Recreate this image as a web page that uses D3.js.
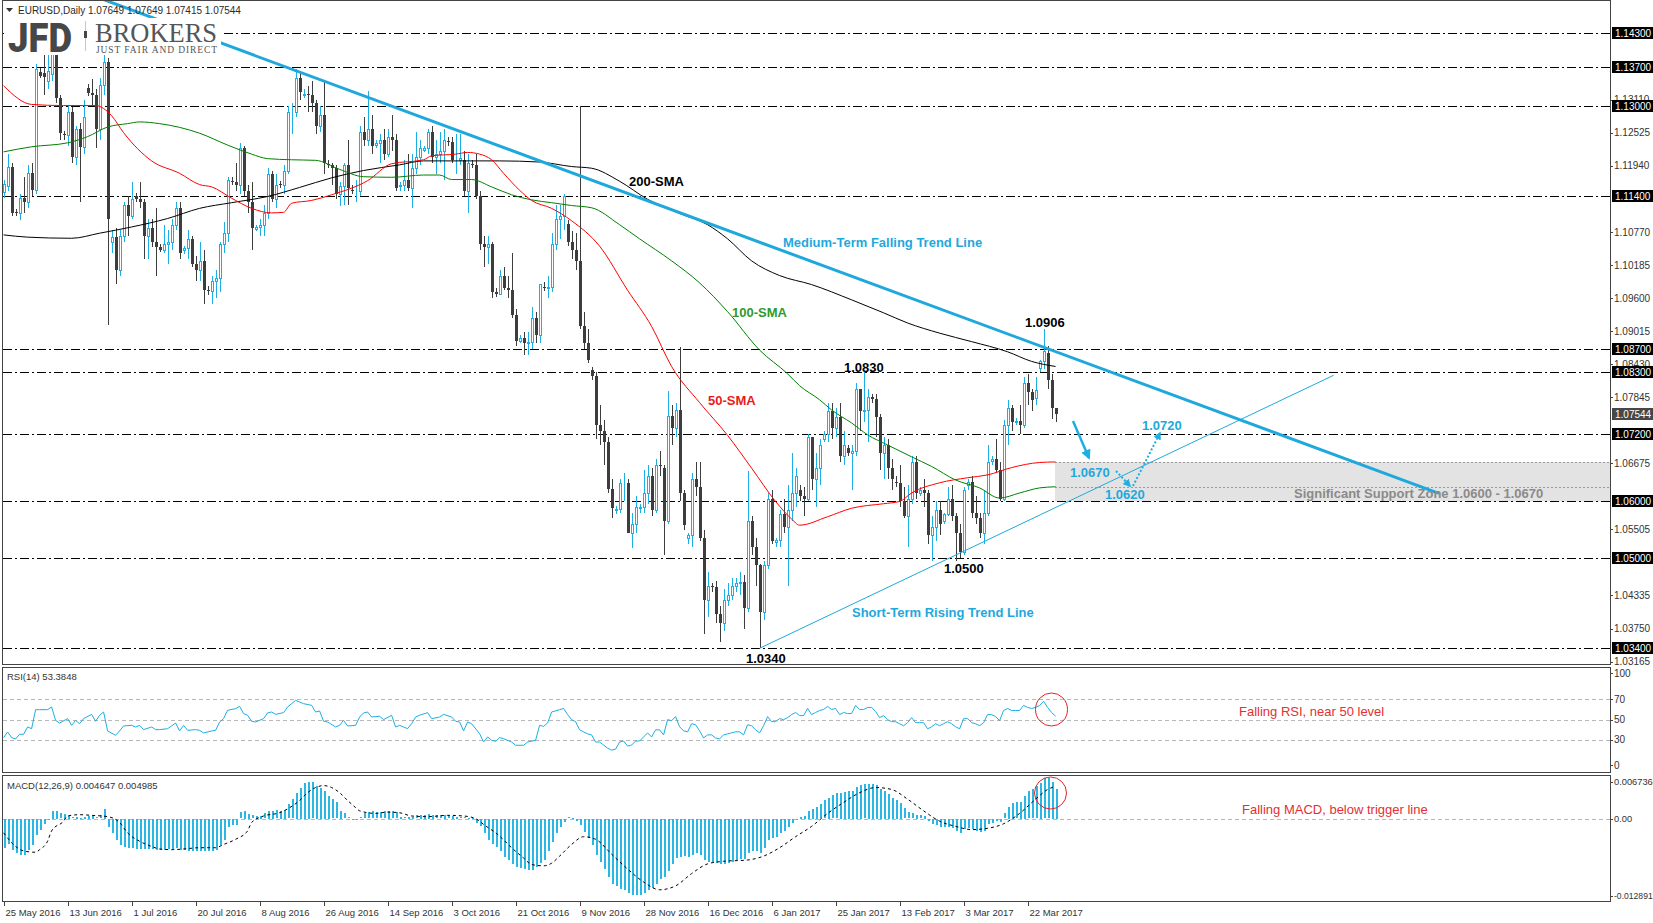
<!DOCTYPE html>
<html><head><meta charset="utf-8">
<script src="https://cdn.jsdelivr.net/npm/d3@7"></script>
<style>
html,body{margin:0;padding:0;background:#fff;overflow:hidden;}
svg{display:block;}
</style></head><body>
<svg id="c" width="1653" height="923" style="font-family:'Liberation Sans',Arial,sans-serif"></svg>
<script>
// ---------------- DATA ----------------
const symbolTitle = "EURUSD,Daily";
const headerValues = "1.07649 1.07649 1.07415 1.07544";
const currentPrice = 1.07544;
const dateLabels = ["25 May 2016","13 Jun 2016","1 Jul 2016","20 Jul 2016","8 Aug 2016","26 Aug 2016","14 Sep 2016","3 Oct 2016","21 Oct 2016","9 Nov 2016","28 Nov 2016","16 Dec 2016","6 Jan 2017","25 Jan 2017","13 Feb 2017","3 Mar 2017","22 Mar 2017"];
const barsPerLabel = 16;
const levelLines = [1.143,1.137,1.130,1.114,1.087,1.083,1.072,1.060,1.050,1.034];
const priceTicks = [1.13110,1.12525,1.11940,1.10770,1.10185,1.09600,1.09015,1.08430,1.07845,1.06675,1.05505,1.04335,1.03750,1.03165];
const supportZone = [1.0600, 1.0670];
const zoneMid = 1.0625;
// [open, high, low, close]
const ohlc = [
[1.1148,1.1170,1.1138,1.1162],//0 25May
[1.1158,1.1216,1.1150,1.1192],//1
[1.1192,1.1200,1.1105,1.1110],//2
[1.1112,1.1118,1.1106,1.1110],//3
[1.1110,1.1145,1.1098,1.1138],//4
[1.1138,1.1175,1.1110,1.1130],//5
[1.1130,1.1195,1.1120,1.1182],//6
[1.1182,1.1200,1.1140,1.1152],//7
[1.1152,1.1375,1.1145,1.1365],//8
[1.1360,1.1368,1.1350,1.1354],//9
[1.1358,1.1394,1.1320,1.1352],//10
[1.1345,1.1395,1.1330,1.1362],//11
[1.1356,1.1416,1.1345,1.1394],//12
[1.1394,1.1400,1.1305,1.1315],//13
[1.1315,1.1320,1.1240,1.1252],//14
[1.1250,1.1256,1.1240,1.1248],//15
[1.1248,1.1300,1.1230,1.1290],//16 13Jun
[1.1290,1.1298,1.1200,1.1210],//17
[1.1210,1.1265,1.1195,1.1260],//18
[1.1260,1.1270,1.1130,1.1228],//19
[1.1228,1.1310,1.1215,1.1280],//20
[1.1332,1.1340,1.1318,1.1324],//21
[1.1324,1.1348,1.1300,1.1320],//22
[1.1320,1.1330,1.1225,1.1260],//23
[1.1260,1.1350,1.1240,1.1338],//24
[1.1338,1.1428,1.1320,1.1378],//25
[1.1378,1.1385,1.0912,1.1100],//26
[1.1060,1.1080,1.1040,1.1068],//27
[1.1068,1.1085,1.0985,1.1010],//28
[1.1010,1.1080,1.1000,1.1070],//29
[1.1070,1.1130,1.1060,1.1125],//30
[1.1125,1.1140,1.1070,1.1105],//31
[1.1105,1.1165,1.1100,1.1135],//32 1Jul
[1.1140,1.1146,1.1130,1.1136],//33
[1.1136,1.1165,1.1120,1.1130],//34
[1.1130,1.1135,1.1030,1.1070],//35
[1.1070,1.1100,1.1030,1.1085],//36
[1.1085,1.1100,1.1050,1.1060],//37
[1.1060,1.1120,1.1000,1.1050],//38
[1.1050,1.1056,1.1042,1.1046],//39
[1.1046,1.1090,1.1040,1.1055],//40
[1.1055,1.1080,1.1020,1.1060],//41
[1.1060,1.1100,1.1045,1.1090],//42
[1.1090,1.1130,1.1080,1.1120],//43
[1.1120,1.1130,1.1030,1.1040],//44
[1.1045,1.1052,1.1038,1.1048],//45
[1.1048,1.1080,1.1030,1.1065],//46
[1.1065,1.1070,1.1015,1.1020],//47
[1.1020,1.1035,1.0990,1.1010],//48 20Jul
[1.1010,1.1060,1.0990,1.1025],//49
[1.1025,1.1045,1.0950,1.0975],//50
[1.0975,1.0982,1.0965,1.0972],//51
[1.0972,1.1000,1.0950,1.0990],//52
[1.0990,1.1010,1.0960,1.0995],//53
[1.0995,1.1060,1.0970,1.1055],//54
[1.1055,1.1095,1.1040,1.1075],//55
[1.1075,1.1175,1.1060,1.1170],//56
[1.1168,1.1175,1.1160,1.1165],//57
[1.1165,1.1200,1.1150,1.1160],//58
[1.1160,1.1235,1.1145,1.1225],//59
[1.1225,1.1230,1.1140,1.1150],//60
[1.1150,1.1160,1.1110,1.1130],//61
[1.1130,1.1165,1.1045,1.1085],//62
[1.1082,1.1090,1.1078,1.1086],//63
[1.1086,1.1100,1.1070,1.1090],//64 8Aug
[1.1090,1.1125,1.1070,1.1110],//65
[1.1110,1.1190,1.1100,1.1180],//66
[1.1180,1.1185,1.1130,1.1135],//67
[1.1135,1.1180,1.1120,1.1160],//68
[1.1162,1.1168,1.1155,1.1160],//69
[1.1160,1.1195,1.1145,1.1185],//70
[1.1185,1.1300,1.1180,1.1290],//71
[1.1290,1.1305,1.1250,1.1290],//72
[1.1290,1.1366,1.1280,1.1350],//73
[1.1350,1.1360,1.1310,1.1325],//74
[1.1320,1.1330,1.1315,1.1322],//75
[1.1322,1.1335,1.1290,1.1320],//76
[1.1320,1.1345,1.1290,1.1305],//77
[1.1305,1.1310,1.1250,1.1265],//78
[1.1265,1.1300,1.1255,1.1285],//79
[1.1285,1.1342,1.1180,1.1200],//80 26Aug
[1.1198,1.1205,1.1190,1.1195],//81
[1.1195,1.1200,1.1160,1.1190],//82
[1.1190,1.1195,1.1135,1.1145],//83
[1.1145,1.1165,1.1123,1.1158],//84
[1.1158,1.1200,1.1125,1.1195],//85
[1.1195,1.1240,1.1125,1.1155],//86
[1.1152,1.1160,1.1145,1.1150],//87
[1.1150,1.1170,1.1130,1.1150],//88
[1.1150,1.1265,1.1140,1.1255],//89
[1.1255,1.1280,1.1230,1.1240],//90
[1.1240,1.1327,1.1230,1.1260],//91
[1.1260,1.1285,1.1215,1.1230],//92
[1.1232,1.1240,1.1225,1.1235],//93
[1.1235,1.1250,1.1200,1.1240],//94
[1.1240,1.1260,1.1205,1.1215],//95
[1.1215,1.1260,1.1210,1.1245],//96 14Sep
[1.1245,1.1285,1.1220,1.1240],//97
[1.1240,1.1250,1.1150,1.1155],//98
[1.1158,1.1165,1.1150,1.1160],//99
[1.1160,1.1205,1.1150,1.1170],//100
[1.1170,1.1215,1.1150,1.1155],//101
[1.1155,1.1215,1.1120,1.1190],//102
[1.1190,1.1255,1.1180,1.1210],//103
[1.1210,1.1240,1.1195,1.1225],//104
[1.1222,1.1230,1.1218,1.1225],//105
[1.1225,1.1260,1.1215,1.1255],//106
[1.1255,1.1265,1.1200,1.1210],//107
[1.1210,1.1240,1.1180,1.1215],//108
[1.1215,1.1255,1.1200,1.1220],//109
[1.1220,1.1260,1.1170,1.1240],//110
[1.1238,1.1245,1.1230,1.1236],//111
[1.1236,1.1245,1.1200,1.1205],//112 3Oct
[1.1205,1.1250,1.1180,1.1205],//113
[1.1205,1.1250,1.1195,1.1208],//114
[1.1205,1.1220,1.1140,1.1150],//115
[1.1150,1.1215,1.1110,1.1200],//116
[1.1198,1.1205,1.1190,1.1195],//117
[1.1195,1.1215,1.1135,1.1140],//118
[1.1140,1.1150,1.1045,1.1055],//119
[1.1055,1.1070,1.1015,1.1050],//120
[1.1050,1.1070,1.1020,1.1055],//121
[1.1055,1.1060,1.0960,1.0970],//122
[1.0970,1.0978,1.0962,1.0968],//123
[1.0968,1.1010,1.0965,1.1000],//124
[1.1000,1.1015,1.0975,1.0978],//125
[1.0978,1.1000,1.0960,1.0975],//126
[1.0975,1.1040,1.0925,1.0930],//127
[1.0930,1.0940,1.0875,1.0885],//128 21Oct
[1.0885,1.0895,1.0880,1.0890],//129
[1.0890,1.0900,1.0860,1.0880],//130
[1.0880,1.0900,1.0860,1.0882],//131
[1.0882,1.0945,1.0870,1.0925],//132
[1.0925,1.0935,1.0880,1.0895],//133
[1.0895,1.0985,1.0880,1.0985],//134
[1.0980,1.0988,1.0972,1.0978],//135
[1.0978,1.1000,1.0960,1.0980],//136
[1.0980,1.1075,1.0970,1.1055],//137
[1.1055,1.1125,1.1045,1.1100],//138
[1.1100,1.1125,1.1065,1.1105],//139
[1.1105,1.1145,1.1080,1.1140],//140
[1.1092,1.1098,1.1052,1.1060],//141
[1.1060,1.1078,1.1030,1.1045],//142
[1.1045,1.1075,1.1010,1.1025],//143
[1.1025,1.1300,1.0905,1.0910],//144 9Nov
[1.0910,1.0935,1.0870,1.0880],//145
[1.0880,1.0905,1.0845,1.0850],//146
[1.0832,1.0838,1.0815,1.0822],//147
[1.0822,1.0830,1.0710,1.0735],//148
[1.0735,1.0770,1.0700,1.0725],//149
[1.0725,1.0745,1.0665,1.0705],//150
[1.0705,1.0715,1.0615,1.0622],//151
[1.0622,1.0640,1.0570,1.0588],//152
[1.0585,1.0592,1.0578,1.0586],//153
[1.0586,1.0640,1.0580,1.0632],//154
[1.0632,1.0650,1.0600,1.0632],//155
[1.0632,1.0640,1.0545,1.0545],//156
[1.0545,1.0580,1.0518,1.0560],//157
[1.0560,1.0610,1.0545,1.0590],//158
[1.0588,1.0595,1.0580,1.0590],//159
[1.0590,1.0655,1.0580,1.0615],//160 28Nov
[1.0615,1.0665,1.0595,1.0645],//161
[1.0645,1.0660,1.0575,1.0585],//162
[1.0585,1.0675,1.0580,1.0665],//163
[1.0665,1.0690,1.0645,1.0662],//164
[1.0660,1.0665,1.0505,1.0565],//165
[1.0565,1.0795,1.0560,1.0752],//166
[1.0752,1.0770,1.0700,1.0730],//167
[1.0730,1.0775,1.0715,1.0762],//168
[1.0762,1.0874,1.0600,1.0615],//169
[1.0615,1.0620,1.0550,1.0558],//170
[1.0535,1.0545,1.0525,1.0540],//171
[1.0540,1.0650,1.0520,1.0640],//172
[1.0640,1.0670,1.0610,1.0625],//173
[1.0625,1.0670,1.0530,1.0535],//174
[1.0535,1.0550,1.0365,1.0425],//175
[1.0425,1.0475,1.0395,1.0450],//176 16Dec
[1.0450,1.0455,1.0440,1.0448],//177
[1.0448,1.0460,1.0385,1.0400],//178
[1.0400,1.0415,1.0352,1.0385],//179
[1.0385,1.0445,1.0370,1.0425],//180
[1.0425,1.0455,1.0415,1.0435],//181
[1.0435,1.0465,1.0425,1.0450],//182
[1.0450,1.0465,1.0440,1.0455],//183
[1.0455,1.0475,1.0435,1.0458],//184
[1.0458,1.0470,1.0375,1.0412],//185
[1.0412,1.0654,1.0405,1.0565],//186
[1.0565,1.0575,1.0505,1.0520],//187
[1.0520,1.0535,1.0450,1.0487],//188
[1.0487,1.0490,1.0340,1.0405],//189
[1.0405,1.0495,1.0390,1.0487],//190
[1.0487,1.0615,1.0480,1.0605],//191
[1.0605,1.0620,1.0525,1.0530],//192 6Jan
[1.0528,1.0535,1.0520,1.0532],//193
[1.0532,1.0585,1.0520,1.0578],//194
[1.0578,1.0605,1.0545,1.0555],//195
[1.0555,1.0630,1.0450,1.0585],//196
[1.0585,1.0685,1.0565,1.0615],//197
[1.0615,1.0660,1.0590,1.0645],//198
[1.0620,1.0630,1.0600,1.0610],//199
[1.0610,1.0625,1.0575,1.0605],//200
[1.0605,1.0720,1.0600,1.0715],//201
[1.0715,1.0715,1.0620,1.0640],//202
[1.0640,1.0685,1.0590,1.0660],//203
[1.0660,1.0710,1.0630,1.0700],//204
[1.0710,1.0725,1.0705,1.0720],//205
[1.0720,1.0775,1.0705,1.0760],//206
[1.0760,1.0775,1.0710,1.0730],//207
[1.0730,1.0765,1.0715,1.0750],//208 25Jan
[1.0750,1.0775,1.0670,1.0680],//209
[1.0680,1.0725,1.0665,1.0700],//210
[1.0695,1.0700,1.0680,1.0685],//211
[1.0685,1.0700,1.0620,1.0690],//212
[1.0690,1.0810,1.0680,1.0800],//213
[1.0800,1.0800,1.0725,1.0760],//214
[1.0760,1.0829,1.0740,1.0762],//215
[1.0762,1.0800,1.0705,1.0785],//216
[1.0785,1.0790,1.0775,1.0782],//217
[1.0782,1.0790,1.0715,1.0750],//218
[1.0750,1.0755,1.0655,1.0685],//219
[1.0685,1.0715,1.0640,1.0700],//220
[1.0700,1.0710,1.0640,1.0660],//221
[1.0660,1.0675,1.0620,1.0640],//222
[1.0635,1.0645,1.0625,1.0632],//223
[1.0632,1.0665,1.0590,1.0600],//224 13Feb
[1.0600,1.0625,1.0570,1.0575],//225
[1.0575,1.0630,1.0520,1.0605],//226
[1.0605,1.0680,1.0595,1.0670],//227
[1.0670,1.0680,1.0605,1.0615],//228
[1.0615,1.0625,1.0610,1.0620],//229
[1.0620,1.0640,1.0590,1.0615],//230
[1.0615,1.0620,1.0525,1.0540],//231
[1.0540,1.0575,1.0494,1.0555],//232
[1.0555,1.0600,1.0530,1.0585],//233
[1.0585,1.0600,1.0540,1.0560],//234
[1.0565,1.0580,1.0560,1.0578],//235
[1.0578,1.0625,1.0575,1.0605],//236
[1.0605,1.0630,1.0565,1.0575],//237
[1.0575,1.0580,1.0495,1.0545],//238
[1.0545,1.0560,1.0500,1.0510],//239
[1.0510,1.0625,1.0505,1.0620],//240 3Mar
[1.0630,1.0640,1.0620,1.0635],//241
[1.0635,1.0645,1.0570,1.0580],//242
[1.0580,1.0610,1.0560,1.0570],//243
[1.0570,1.0580,1.0535,1.0545],//244
[1.0545,1.0620,1.0525,1.0580],//245
[1.0580,1.0700,1.0575,1.0670],//246
[1.0672,1.0680,1.0665,1.0675],//247
[1.0675,1.0710,1.0650,1.0655],//248
[1.0655,1.0670,1.0600,1.0605],//249
[1.0605,1.0745,1.0600,1.0735],//250
[1.0735,1.0780,1.0700,1.0765],//251
[1.0765,1.0770,1.0725,1.0740],//252
[1.0740,1.0748,1.0735,1.0742],//253
[1.0742,1.0770,1.0720,1.0735],//254
[1.0735,1.0820,1.0730,1.0810],//255
[1.0810,1.0825,1.0770,1.0793],//256 22Mar
[1.0793,1.0800,1.0760,1.0780],//257
[1.0783,1.0820,1.0770,1.0797],//258
[1.0836,1.0850,1.0830,1.0848],//259
[1.0848,1.0906,1.0835,1.0866],//260
[1.0862,1.0875,1.0800,1.0815],//261
[1.0815,1.0825,1.0746,1.0766],//262
[1.07649,1.07649,1.07415,1.07544]//263
];
// moving averages: [bar index, value]
const sma50 = [[0,1.1336],[7,1.1303],[15,1.1301],[23,1.1301],[27,1.1283],[30,1.1253],[37,1.1203],[44,1.1181],[49,1.1161],[52,1.1157],[57,1.1137],[62,1.1119],[67,1.1111],[70,1.1112],[72,1.1128],[77,1.1133],[82,1.1143],[91,1.1168],[97,1.1198],[105,1.1205],[107,1.1212],[113,1.1215],[116,1.1218],[119,1.1215],[122,1.1205],[125,1.1181],[129,1.1151],[132,1.1133],[137,1.1119],[142,1.1097],[149,1.1052],[156,1.0974],[162,1.0910],[167,1.0839],[174,1.0775],[181,1.0717],[187,1.0659],[193,1.0600],[197,1.0569],[199,1.0558],[206,1.0573],[212,1.0588],[220,1.0596],[224,1.0600],[227,1.0615],[234,1.0633],[241,1.0642],[246,1.0647],[252,1.0660],[259,1.0669],[263,1.0670]];
const sma100 = [[0,1.1219],[7,1.1228],[16,1.1235],[21,1.1246],[26,1.1263],[31,1.1269],[34,1.1272],[39,1.1269],[49,1.1252],[56,1.1231],[62,1.1215],[66,1.1207],[72,1.1205],[78,1.1204],[84,1.1188],[90,1.1175],[97,1.1174],[105,1.1178],[109,1.1178],[112,1.1170],[117,1.1170],[122,1.1157],[127,1.1143],[132,1.1134],[137,1.1129],[142,1.1124],[147,1.1120],[154,1.1090],[159,1.1065],[167,1.1026],[174,1.0987],[181,1.0936],[189,1.0868],[196,1.0826],[199,1.0805],[204,1.0780],[207,1.0762],[212,1.0739],[216,1.0718],[221,1.0700],[227,1.0679],[232,1.0662],[238,1.0638],[244,1.0624],[249,1.0606],[254,1.0615],[259,1.0624],[263,1.0626]];
const sma200 = [[0,1.1072],[6,1.1068],[17,1.1066],[24,1.1075],[32,1.1086],[41,1.1101],[49,1.1119],[57,1.1129],[66,1.1140],[74,1.1156],[82,1.1173],[90,1.1186],[99,1.1196],[105,1.1203],[124,1.1203],[134,1.1201],[142,1.1193],[147,1.1190],[154,1.1167],[161,1.1135],[169,1.1110],[176,1.1090],[181,1.1065],[187,1.1026],[194,1.1000],[202,1.0984],[212,1.0957],[220,1.0934],[226,1.0916],[234,1.0898],[242,1.0883],[251,1.0865],[257,1.0848],[263,1.0839]];
// trend lines: two anchor points [bar index, price]
const fallingTrend = [[55.2,1.14095],[358.8,1.06143]];
const risingTrend = [[189,1.0340],[332.5,1.08234]];
// RSI(14): [bar index, value]
const rsi = [[0,32.3],[1,37.9],[2,32.3],[3,31],[4,35.6],[5,35.6],[6,42.8],[7,41.1],[8,59.8],[9,59.8],[11,59.8],[12,62.5],[13,49.3],[14,46.7],[16,51],[17,44.4],[18,49.3],[19,46],[20,51],[22,55.2],[23,48.4],[24,54.3],[25,57.5],[26,38.9],[28,34.6],[29,39],[30,43.8],[32,44.4],[33,42.8],[34,44.4],[35,40.2],[37,42.8],[38,40.2],[39,40.2],[41,41.1],[42,43.8],[43,46.7],[44,38.9],[45,44.4],[46,39.5],[48,40.2],[49,39.5],[50,36.9],[52,38.9],[53,39.5],[54,47.7],[55,51],[56,59.2],[58,60.8],[59,63.1],[60,55.9],[61,54.3],[62,48.4],[63,47.7],[65,51],[66,56.6],[67,57.5],[68,55.2],[70,56.9],[71,62.5],[72,65.7],[73,69],[74,67.4],[75,65.7],[77,64.1],[78,57.5],[79,58.5],[80,48.4],[81,47.7],[83,42.8],[84,44.4],[85,49.3],[86,43.8],[88,44.4],[89,52.6],[90,56.6],[91,57.5],[92,52.6],[94,53.3],[95,50],[97,54.3],[98,42.8],[99,44.4],[100,42.8],[101,41.1],[102,46],[103,52.6],[104,54.3],[106,56.9],[107,51],[109,52.6],[110,55.2],[112,52.6],[113,48.4],[114,47.7],[115,38.9],[116,47.7],[117,46],[119,36.2],[120,28],[121,33],[122,29.7],[123,28.7],[124,32.3],[125,31.3],[127,28],[128,24.8],[130,24.8],[131,28],[133,29.7],[134,44.4],[135,43.4],[136,46.7],[137,57.5],[139,59.8],[140,61],[141,55],[142,50],[143,48],[144,40],[145,38],[146,36],[147,35],[148,28],[149,28],[150,25],[151,22],[152,20],[153,21],[154,28],[155,29],[156,24],[157,25],[158,29],[159,29],[160,33],[161,37],[162,33],[163,40],[164,40],[165,35],[166,50],[167,49],[168,53],[169,43],[170,39],[171,38],[172,46],[173,45],[174,39],[175,32],[176,35],[177,35],[178,32],[179,31],[180,35],[181,36],[182,37],[183,38],[184,38],[185,35],[186,45],[187,44],[188,40],[189,37],[190,44],[191,53],[192,48],[193,48],[194,51],[195,50],[196,52],[197,55],[198,57],[199,54],[200,54],[201,61],[202,55],[203,57],[204,59],[205,60],[206,63],[207,60],[208,61],[209,55],[210,57],[211,56],[212,56],[213,64],[214,60],[215,60],[216,62],[217,62],[218,58],[219,52],[220,54],[221,50],[222,48],[223,48],[224,46],[225,44],[226,47],[227,52],[228,47],[229,47],[230,47],[231,41],[232,43],[233,46],[234,44],[235,46],[236,48],[237,46],[238,43],[239,41],[240,51],[241,51],[242,47],[243,46],[244,44],[245,47],[246,55],[247,55],[248,53],[249,49],[250,59],[251,61],[252,59],[253,59],[254,59],[255,64],[256,62],[257,61],[258,62],[259,64],[260,68],[261,62],[262,57],[263,53.3848]];
const rsiLevels = [70,50,30];
const rsiAxisLabels = [100,70,50,30,0];
// MACD(12,26,9) main histogram, one value per bar
const macdHist = [
-0.0045,-0.0038,-0.0048,-0.0052,-0.0056,-0.0056,-0.0048,-0.0040,-0.0025,-0.0017,-0.0008,-0.0002,0.0012,0.0012,0.0008,0.0007,
0.0004,0.0002,0.0003,0.0001,0.0003,0.0004,0.0004,0.0002,0.0005,0.0015,-0.0012,-0.0022,-0.0032,-0.0040,-0.0043,-0.0045,
-0.0045,-0.0046,-0.0046,-0.0047,-0.0046,-0.0047,-0.0048,-0.0048,-0.0048,-0.0047,-0.0046,-0.0045,-0.0048,-0.0048,-0.0049,-0.0049,
-0.0050,-0.0050,-0.0050,-0.0050,-0.0050,-0.0048,-0.0040,-0.0032,-0.0012,-0.0010,-0.0009,0.0010,0.0012,0.0007,0.0005,0.0004,
0.0004,0.0008,0.0012,0.0012,0.0013,0.0012,0.0014,0.0022,0.0030,0.0040,0.0048,0.0055,0.0057,0.0056,0.0051,0.0048,
0.0043,0.0035,0.0030,0.0025,0.0012,0.0008,0.0002,0.0000,-0.0001,0.0002,0.0008,0.0010,0.0011,0.0010,0.0010,0.0011,
0.0012,0.0011,0.0010,0.0003,0.0002,0.0003,0.0003,0.0005,0.0006,0.0006,0.0007,0.0006,0.0005,0.0005,0.0006,0.0005,
0.0004,0.0003,0.0002,0.0002,0.0001,0.0001,-0.0006,-0.0011,-0.0022,-0.0032,-0.0038,-0.0043,-0.0050,-0.0058,-0.0064,-0.0069,
-0.0074,-0.0076,-0.0078,-0.0079,-0.0079,-0.0074,-0.0068,-0.0063,-0.0050,-0.0035,-0.0022,-0.0012,-0.0004,0.0002,0.0001,-0.0003,
-0.0010,-0.0020,-0.0030,-0.0040,-0.0055,-0.0067,-0.0078,-0.0090,-0.0100,-0.0104,-0.0108,-0.0110,-0.0115,-0.0118,-0.0118,-0.0117,
-0.0115,-0.0110,-0.0106,-0.0100,-0.0092,-0.0090,-0.0080,-0.0070,-0.0060,-0.0058,-0.0057,-0.0058,-0.0055,-0.0053,-0.0055,-0.0063,
-0.0066,-0.0066,-0.0068,-0.0070,-0.0070,-0.0068,-0.0066,-0.0064,-0.0062,-0.0062,-0.0052,-0.0050,-0.0050,-0.0052,-0.0045,-0.0032,
-0.0030,-0.0028,-0.0022,-0.0018,-0.0012,-0.0006,0.0000,0.0003,0.0004,0.0012,0.0015,0.0018,0.0022,0.0028,0.0032,0.0036,
0.0039,0.0040,0.0041,0.0043,0.0043,0.0049,0.0052,0.0053,0.0054,0.0054,0.0052,0.0046,0.0043,0.0038,0.0032,0.0029,
0.0024,0.0016,0.0010,0.0008,0.0006,0.0005,0.0004,-0.0003,-0.0008,-0.0010,-0.0012,-0.0013,-0.0012,-0.0014,-0.0018,-0.0022,
-0.0016,-0.0014,-0.0016,-0.0018,-0.0020,-0.0018,-0.0008,-0.0006,-0.0003,-0.0005,0.0008,0.0018,0.0024,0.0025,0.0026,0.0035,
0.0042,0.0045,0.0050,0.0055,0.0062,0.0062,0.0057,0.004647];
// MACD signal line: [bar index, value]
const macdSignal = [[0,-0.0022],[3,-0.0043],[5,-0.0050],[8,-0.0052],[9,-0.0048],[11,-0.0035],[12,-0.0019],[15,-0.0004],[16,0.0004],[19,0.0006],[22,0.0005],[26,0.0003],[29,-0.0006],[31,-0.0022],[34,-0.0035],[37,-0.0043],[39,-0.0047],[42,-0.0048],[45,-0.0047],[49,-0.0045],[53,-0.0045],[55,-0.0040],[58,-0.0032],[61,-0.0019],[62,-0.0006],[65,0.0004],[69,0.0009],[71,0.0015],[74,0.0028],[76,0.0040],[78,0.0048],[80,0.0051],[82,0.0048],[84,0.0040],[86,0.0028],[88,0.0017],[89,0.0012],[93,0.0008],[96,0.0010],[99,0.0009],[102,0.0004],[106,0.0003],[111,0.0005],[115,0.0004],[118,0.0000],[120,-0.0009],[124,-0.0027],[127,-0.0045],[130,-0.0061],[132,-0.0071],[135,-0.0073],[137,-0.0069],[139,-0.0058],[142,-0.0040],[145,-0.0028],[148,-0.0032],[152,-0.0055],[156,-0.0078],[160,-0.0098],[164,-0.0110],[168,-0.0104],[172,-0.0085],[176,-0.0070],[180,-0.0066],[186,-0.0064],[190,-0.0058],[194,-0.0045],[198,-0.0028],[202,-0.0012],[206,0.0008],[210,0.0025],[214,0.0040],[218,0.0048],[222,0.0045],[226,0.0030],[230,0.0012],[234,-0.0004],[238,-0.0012],[242,-0.0017],[246,-0.0015],[250,-0.0008],[254,0.0008],[258,0.0030],[261,0.0045],[263,0.004985]];
const macdRange = [-0.012891, 0.006736];

// ---------------- LAYOUT ----------------
const svg = d3.select('#c');
const AX = 1610;
const LEFT = 3;
const MAIN = {top:0, bottom:665};
const RSIP = {top:667, bottom:773};
const MACDP = {top:775, bottom:902};
const CYAN = '#1daee3', BEAR = '#3d3d3d', TL = '#1fa8dc';

const n = ohlc.length;
const xS = d3.scaleLinear().domain([0, n-1]).range([3.6, 3.6 + 4*(n-1)]);
const yS = d3.scaleLinear().domain([1.034, 1.143]).range([648.3, 32.7]);
const yR = d3.scaleLinear().domain([0,100]).range([770.5, 668.8]);
const yM = d3.scaleLinear().domain(macdRange).range([MACDP.bottom, MACDP.top]);
const px = i => Math.round(xS(i));

const defs = svg.append('defs');
defs.append('clipPath').attr('id','cm').append('rect').attr('x',LEFT).attr('y',MAIN.top+1).attr('width',AX-LEFT).attr('height',MAIN.bottom-MAIN.top-1);
defs.append('clipPath').attr('id','cr').append('rect').attr('x',LEFT).attr('y',RSIP.top).attr('width',AX-LEFT).attr('height',RSIP.bottom-RSIP.top);
defs.append('clipPath').attr('id','cd').append('rect').attr('x',LEFT).attr('y',MACDP.top).attr('width',AX-LEFT).attr('height',MACDP.bottom-MACDP.top);
defs.append('marker').attr('id','arr').attr('viewBox','0 0 10 10').attr('refX',8).attr('refY',5)
  .attr('markerWidth',4).attr('markerHeight',4).attr('orient','auto')
  .append('path').attr('d','M0,0 L10,5 L0,10 z').attr('fill',CYAN);

svg.append('rect').attr('width',1653).attr('height',923).attr('fill','#fff');

// ---------- MAIN PANEL ----------
const gm = svg.append('g').attr('clip-path','url(#cm)');
gm.append('rect').attr('x',1055).attr('width',AX-1055)
  .attr('y',yS(supportZone[1])).attr('height',yS(supportZone[0])-yS(supportZone[1])).attr('fill','#e3e3e3');
[supportZone[1], zoneMid].forEach(v=>{
  gm.append('line').attr('x1',1055).attr('x2',AX).attr('y1',Math.round(yS(v))+0.5).attr('y2',Math.round(yS(v))+0.5)
    .attr('stroke','#9a9a9a').attr('stroke-dasharray','2,2');
});
gm.selectAll('line.lvl').data(levelLines).join('line').attr('class','lvl')
  .attr('x1',LEFT).attr('x2',AX).attr('y1',d=>Math.round(yS(d))+0.5).attr('y2',d=>Math.round(yS(d))+0.5)
  .attr('stroke','#000').attr('stroke-width',1).attr('stroke-dasharray','9,3,2,3');

// candles
const cg = gm.append('g').attr('shape-rendering','crispEdges');
const cd = cg.selectAll('g').data(ohlc).join('g');
cd.append('line')
  .attr('x1',(d,i)=>px(i)+0.5).attr('x2',(d,i)=>px(i)+0.5)
  .attr('y1',d=>yS(d[1])).attr('y2',d=>yS(d[2]))
  .attr('stroke',d=>d[3]>=d[0]?CYAN:BEAR);
cd.append('rect')
  .attr('x',(d,i)=> d[3]>=d[0] ? px(i)-0.5 : px(i)-1)
  .attr('y',d=>{const t=Math.round(yS(Math.max(d[0],d[3]))); return d[3]>=d[0]? t+0.5 : t;})
  .attr('width',d=>d[3]>=d[0]?2:3)
  .attr('height',d=>{const t=Math.round(yS(Math.max(d[0],d[3]))), b=Math.round(yS(Math.min(d[0],d[3]))); return d[3]>=d[0]? Math.max(b-t,0) : Math.max(b-t,1);})
  .attr('fill',d=>d[3]>=d[0]?'#fff':BEAR)
  .attr('stroke',d=>d[3]>=d[0]?CYAN:'none');

// SMAs
const smaLine = d3.line().x(d=>xS(d[0])).y(d=>yS(d[1])).curve(d3.curveMonotoneX);
gm.append('path').attr('d',smaLine(sma200)).attr('fill','none').attr('stroke','#000').attr('stroke-width',1);
gm.append('path').attr('d',smaLine(sma100)).attr('fill','none').attr('stroke','#008000').attr('stroke-width',1);
gm.append('path').attr('d',smaLine(sma50)).attr('fill','none').attr('stroke','#ff0000').attr('stroke-width',1);

// trend lines
function trendPts(a,fromI,toI){
  const s=(a[1][1]-a[0][1])/(a[1][0]-a[0][0]);
  return [[fromI,a[0][1]+s*(fromI-a[0][0])],[toI,a[0][1]+s*(toI-a[0][0])]];
}
const tl = d3.line().x(d=>xS(d[0])).y(d=>yS(d[1]));
gm.append('path').attr('d',tl(trendPts(fallingTrend,25,fallingTrend[1][0]))).attr('stroke',TL).attr('stroke-width',3).attr('fill','none');
gm.append('path').attr('d',tl(trendPts(risingTrend,risingTrend[0][0],risingTrend[1][0]))).attr('stroke',TL).attr('stroke-width',1).attr('fill','none');

// arrows
gm.append('line').attr('x1',1073).attr('y1',421).attr('x2',1089).attr('y2',458)
  .attr('stroke',CYAN).attr('stroke-width',2.5).attr('marker-end','url(#arr)');
gm.append('line').attr('x1',1116).attr('y1',471).attr('x2',1130).attr('y2',486)
  .attr('stroke',CYAN).attr('stroke-width',2).attr('stroke-dasharray','2,2').attr('marker-end','url(#arr)');
gm.append('line').attr('x1',1133).attr('y1',486).attr('x2',1160).attr('y2',433)
  .attr('stroke',CYAN).attr('stroke-width',2).attr('stroke-dasharray','2,2').attr('marker-end','url(#arr)');

function label(x,y,t,color,size,weight){
  return svg.append('text').attr('x',x).attr('y',y).attr('dominant-baseline','central')
    .attr('fill',color).attr('font-size',size).attr('font-weight',weight||'bold').text(t);
}
label(629,181,'200-SMA','#000',13);
label(783,242.5,'Medium-Term Falling Trend Line',TL,13);
label(732,312,'100-SMA','#2e9a2e',13);
label(708,400.5,'50-SMA','#e81c1c',13);
label(1025,322.5,'1.0906','#000',13);
label(844,367,'1.0830','#000',13);
label(944,568,'1.0500','#000',13);
label(746,658,'1.0340','#000',13);
label(852,612.5,'Short-Term Rising Trend Line',TL,13);
label(1142,425,'1.0720',TL,13);
label(1070,472,'1.0670',TL,13);
label(1105,494,'1.0620',TL,13);
label(1294,493,'Significant Support Zone 1.0600 - 1.0670','#8a8a8a',13);

// logo
const lg = svg.append('g');
lg.append('rect').attr('x',4).attr('y',18).attr('width',217).attr('height',37).attr('fill','#fff');
lg.append('text').attr('x',8).attr('y',52).style('font-family','Roboto, "Liberation Sans", sans-serif').attr('font-weight',900)
  .attr('font-size',41).attr('fill','#474747').attr('textLength',64).attr('lengthAdjust','spacingAndGlyphs').text('JFD');
lg.append('line').attr('x1',85.5).attr('x2',85.5).attr('y1',21).attr('y2',51).attr('stroke','#c8c8c8');
lg.append('rect').attr('x',84).attr('y',31).attr('width',3).attr('height',7).attr('fill','#474747');
lg.append('text').attr('x',95).attr('y',42).style('font-family','"Liberation Serif","DejaVu Serif",serif')
  .attr('font-size',27).attr('fill','#555').attr('textLength',122).attr('lengthAdjust','spacingAndGlyphs').text('BROKERS');
lg.append('text').attr('x',96).attr('y',52.5).style('font-family','"Liberation Serif","DejaVu Serif",serif')
  .attr('font-size',9.5).attr('fill','#555').attr('textLength',121).attr('lengthAdjust','spacing').text('JUST FAIR AND DIRECT');

// header
svg.append('path').attr('d','M6,8 L13,8 L9.5,12 Z').attr('fill','#333');
svg.append('text').attr('x',18).attr('y',10.5).attr('dominant-baseline','central').attr('font-size',10).attr('fill','#2a2a2a')
  .text(symbolTitle + '  ' + headerValues);

// ---------- RSI PANEL ----------
const gr = svg.append('g').attr('clip-path','url(#cr)');
gr.selectAll('line').data(rsiLevels).join('line')
  .attr('x1',LEFT).attr('x2',AX).attr('y1',d=>Math.round(yR(d))+0.5).attr('y2',d=>Math.round(yR(d))+0.5)
  .attr('stroke','#b8b8b8').attr('stroke-dasharray','4,3');
gr.append('path').attr('d',d3.line().x(d=>xS(d[0])).y(d=>yR(d[1]))(rsi)).attr('fill','none').attr('stroke',CYAN).attr('stroke-width',1);
svg.append('text').attr('x',7).attr('y',676).attr('dominant-baseline','central').attr('font-size',9.5).attr('fill','#333').text('RSI(14) 53.3848');
svg.append('ellipse').attr('cx',1051.5).attr('cy',709.5).attr('rx',16).attr('ry',16.5).attr('fill','none').attr('stroke','#e02424').attr('stroke-width',1);
label(1239,711.5,'Falling RSI, near 50 level','#e53030',13,'normal');

// ---------- MACD PANEL ----------
const gd = svg.append('g').attr('clip-path','url(#cd)');
gd.append('line').attr('x1',LEFT).attr('x2',AX).attr('y1',Math.round(yM(0))+0.5).attr('y2',Math.round(yM(0))+0.5)
  .attr('stroke','#b8b8b8').attr('stroke-dasharray','4,3');
gd.append('g').attr('shape-rendering','crispEdges').selectAll('rect').data(macdHist).join('rect')
  .attr('x',(d,i)=>px(i)).attr('width',2)
  .attr('y',d=>Math.round(Math.min(yM(d),yM(0)))).attr('height',d=>Math.max(1,Math.round(Math.abs(yM(d)-yM(0)))))
  .attr('fill','#2bb7e6');
gd.append('path').attr('d',d3.line().x(d=>xS(d[0])).y(d=>yM(d[1])).curve(d3.curveMonotoneX)(macdSignal))
  .attr('fill','none').attr('stroke','#000').attr('stroke-width',1).attr('stroke-dasharray','3,3');
svg.append('text').attr('x',7).attr('y',785).attr('dominant-baseline','central').attr('font-size',9.5).attr('fill','#333').text('MACD(12,26,9) 0.004647 0.004985');
svg.append('ellipse').attr('cx',1050.5).attr('cy',793).attr('rx',16).attr('ry',16).attr('fill','none').attr('stroke','#e02424').attr('stroke-width',1);
label(1242,809.5,'Falling MACD, below trigger line','#e53030',13,'normal');

// ---------- FRAMES ----------
const fr = svg.append('g').attr('fill','none').attr('stroke','#444').attr('shape-rendering','crispEdges');
[[MAIN.top,MAIN.bottom],[RSIP.top,RSIP.bottom],[MACDP.top,MACDP.bottom]].forEach(p=>{
  fr.append('rect').attr('x',LEFT-0.5).attr('y',p[0]+0.5).attr('width',AX-LEFT+1).attr('height',p[1]-p[0]-1);
});

// ---------- RIGHT AXIS ----------
const ax = svg.append('g');
function axisLabel(y,t,size){
  ax.append('line').attr('x1',AX).attr('x2',AX+3).attr('y1',Math.round(y)+0.5).attr('y2',Math.round(y)+0.5).attr('stroke','#444');
  ax.append('text').attr('x',AX+4).attr('y',y).attr('dominant-baseline','central').attr('font-size',size||10).attr('fill','#333').text(t);
}
priceTicks.forEach(v=>axisLabel(yS(v), v.toFixed(5)));
function boxLabel(v,fill){
  const y=Math.round(yS(v));
  ax.append('rect').attr('x',AX+2).attr('y',y-6).attr('width',41).attr('height',12).attr('fill',fill);
  ax.append('text').attr('x',AX+5).attr('y',y+0.5).attr('dominant-baseline','central').attr('font-size',10).attr('fill','#fff').text(v.toFixed(5));
}
levelLines.forEach(v=>boxLabel(v,'#000'));
boxLabel(currentPrice,'#474747');
rsiAxisLabels.forEach(v=>{ const y=Math.min(Math.max(yR(v),673),765); axisLabel(y,String(v)); });
axisLabel(781.5,macdRange[1].toFixed(6),9.3);
axisLabel(yM(0),'0.00',9.3);
axisLabel(895.5,macdRange[0].toFixed(6),8.6);

// ---------- TIME AXIS ----------
const tg = svg.append('g');
dateLabels.forEach((t,k)=>{
  const x = px(k*barsPerLabel)+0.5;
  tg.append('line').attr('x1',x).attr('x2',x).attr('y1',MACDP.bottom).attr('y2',MACDP.bottom+4).attr('stroke','#444');
  tg.append('text').attr('x',x+1).attr('y',912.5).attr('dominant-baseline','central').attr('font-size',9.5).attr('fill','#333').text(t);
});
</script>
</body></html>
